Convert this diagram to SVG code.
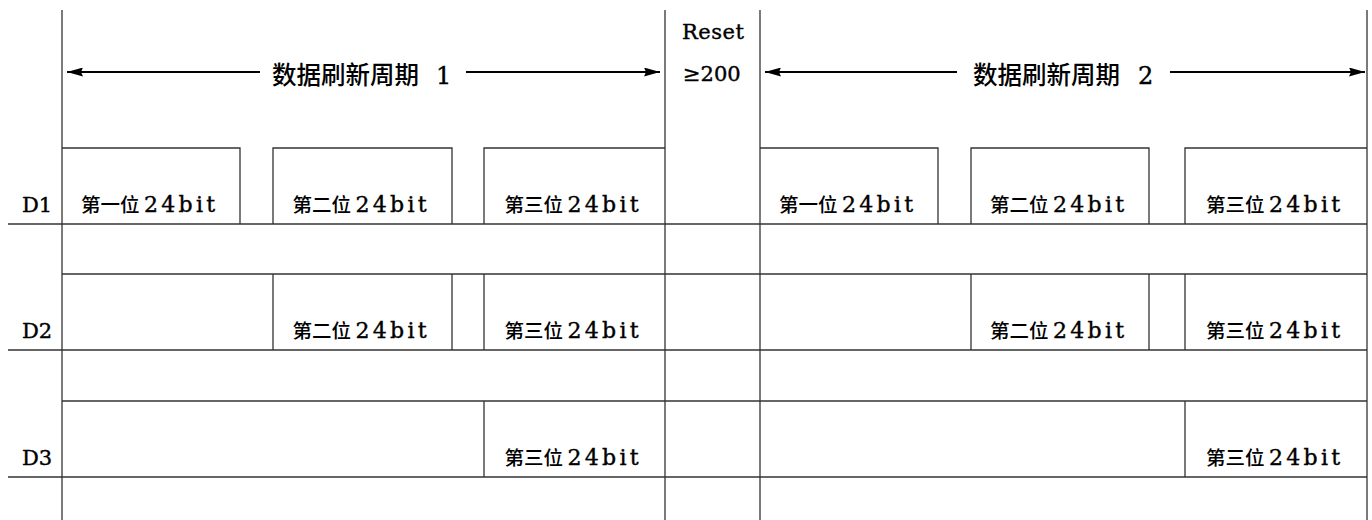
<svg xmlns="http://www.w3.org/2000/svg" width="1372" height="520" viewBox="0 0 1372 520">
<defs>
<marker id="ah" viewBox="0 0 16 9" refX="16" refY="4.5" markerWidth="16" markerHeight="9" markerUnits="userSpaceOnUse" orient="auto">
<path d="M0,0 L16,4.5 L0,9 L2,4.5 z" fill="#000"/>
</marker>
</defs>
<style>
.ln{stroke:#333;stroke-width:1.3;fill:none}
.ar{stroke:#000;stroke-width:2.2;fill:none;marker-end:url(#ah)}
text{fill:#000}
.cj{font-family:"Noto Sans CJK SC",sans-serif;font-size:19.5px;font-weight:500}
.la{font-family:"DejaVu Serif","Noto Sans CJK SC",serif;font-size:21px;stroke:#000;stroke-width:0.4}
.bits{font-family:"DejaVu Serif",serif;font-size:22px;letter-spacing:3.3px;stroke:#000;stroke-width:0.4}
.tc{font-family:"Noto Sans CJK SC",sans-serif;font-size:24.5px;font-weight:500}
.tl{font-family:"DejaVu Serif",serif;font-size:24px;stroke:#000;stroke-width:0.4}
</style>
<rect width="1372" height="520" fill="#fff"/>

<g id="frame">
<line class="ln" x1="62" y1="10" x2="62" y2="520"/>
<line class="ln" x1="665" y1="10" x2="665" y2="520"/>
<line class="ln" x1="760" y1="10" x2="760" y2="520"/>
<line class="ln" x1="1367" y1="10" x2="1367" y2="520"/>
<line class="ln" x1="8" y1="224" x2="1367" y2="224"/>
<line class="ln" x1="62" y1="274" x2="1367" y2="274"/>
<line class="ln" x1="8" y1="350" x2="1367" y2="350"/>
<line class="ln" x1="62" y1="401" x2="1367" y2="401"/>
<line class="ln" x1="8" y1="477" x2="1367" y2="477"/>
</g>

<g id="reset">
<text class="la" x="682" y="39" letter-spacing="0.5">Reset</text>
<text class="la" x="683" y="81">≥200</text>
</g>

<g id="period1">
<text y="84"><tspan class="tc" x="272">数据刷新周期 </tspan><tspan class="tl" x="436">1</tspan></text>
</g>
<g id="period2">
<text y="84"><tspan class="tc" x="973">数据刷新周期 </tspan><tspan class="tl" x="1138">2</tspan></text>
</g>

<g id="connectors">
<line class="ar" x1="260" y1="72" x2="67" y2="72"/>
<line class="ar" x1="466" y1="72" x2="660" y2="72"/>
<line class="ar" x1="957" y1="72" x2="765" y2="72"/>
<line class="ar" x1="1170" y1="72" x2="1365" y2="72"/>
</g>

<g id="D1">
<text class="la" x="22" y="212">D1</text>
<path class="ln" d="M62,148 H240 V224 M273,224 V148 H452 V224 M484,224 V148 H665"/>
<path class="ln" d="M760,148 H938 V224 M971,224 V148 H1149 V224 M1185,224 V148 H1367"/>
<text y="212"><tspan class="cj" x="81">第一位 </tspan><tspan class="bits" x="144">24bit</tspan></text>
<text y="212"><tspan class="cj" x="292.5">第二位 </tspan><tspan class="bits" x="355.5">24bit</tspan></text>
<text y="212"><tspan class="cj" x="504.5">第三位 </tspan><tspan class="bits" x="567.5">24bit</tspan></text>
<text y="212"><tspan class="cj" x="779">第一位 </tspan><tspan class="bits" x="842">24bit</tspan></text>
<text y="212"><tspan class="cj" x="990">第二位 </tspan><tspan class="bits" x="1053">24bit</tspan></text>
<text y="212"><tspan class="cj" x="1206">第三位 </tspan><tspan class="bits" x="1269">24bit</tspan></text>
</g>

<g id="D2">
<text class="la" x="22" y="338">D2</text>
<path class="ln" d="M273,274 V350 M452,274 V350 M484,274 V350 M971,274 V350 M1149,274 V350 M1185,274 V350"/>
<text y="338"><tspan class="cj" x="292.5">第二位 </tspan><tspan class="bits" x="355.5">24bit</tspan></text>
<text y="338"><tspan class="cj" x="504.5">第三位 </tspan><tspan class="bits" x="567.5">24bit</tspan></text>
<text y="338"><tspan class="cj" x="990">第二位 </tspan><tspan class="bits" x="1053">24bit</tspan></text>
<text y="338"><tspan class="cj" x="1206">第三位 </tspan><tspan class="bits" x="1269">24bit</tspan></text>
</g>

<g id="D3">
<text class="la" x="22" y="465">D3</text>
<path class="ln" d="M484,401 V477 M1185,401 V477"/>
<text y="465"><tspan class="cj" x="504.5">第三位 </tspan><tspan class="bits" x="567.5">24bit</tspan></text>
<text y="465"><tspan class="cj" x="1206">第三位 </tspan><tspan class="bits" x="1269">24bit</tspan></text>
</g>
</svg>
